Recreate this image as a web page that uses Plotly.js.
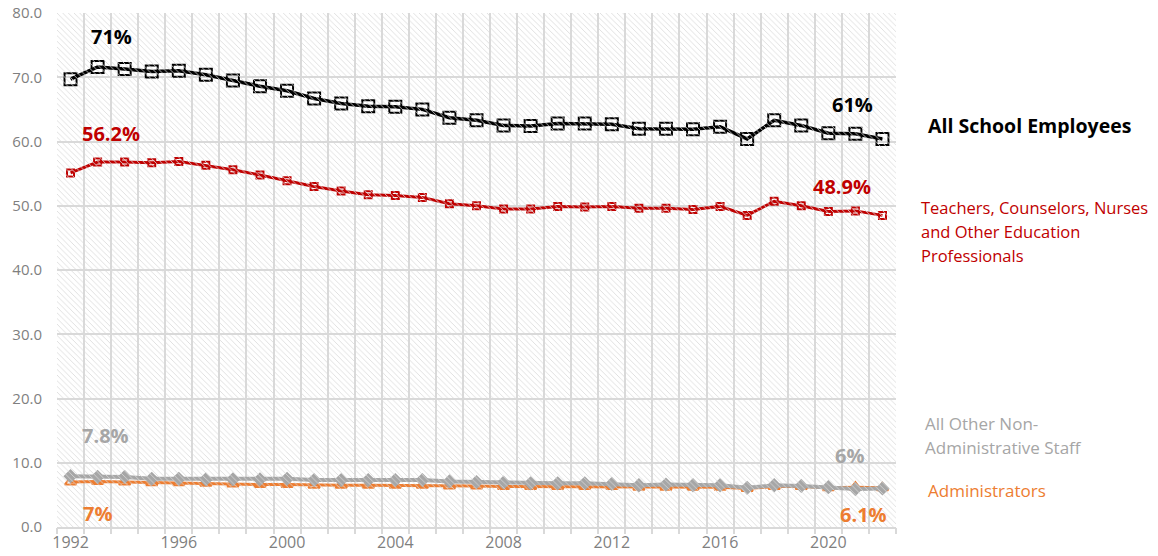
<!DOCTYPE html>
<html>
<head>
<meta charset="utf-8">
<script src="https://cdn.plot.ly/plotly-3.0.1.min.js"></script>
<style>html,body{margin:0;padding:0;background:#fff;}#chart{width:1158px;height:556px;}</style>
</head>
<body>
<div id="chart"></div>
<script>
const years = [1992,1993,1994,1995,1996,1997,1998,1999,2000,2001,2002,2003,2004,2005,2006,2007,2008,2009,2010,2011,2012,2013,2014,2015,2016,2017,2018,2019,2020,2021,2022];
const allEmployees = [69.7,71.6,71.3,70.9,71.0,70.4,69.5,68.6,67.9,66.7,65.9,65.5,65.4,65.0,63.7,63.3,62.5,62.4,62.8,62.8,62.7,62.0,62.0,61.9,62.3,60.4,63.3,62.5,61.3,61.2,60.4];
const teachers = [55.1,56.8,56.8,56.7,56.9,56.3,55.6,54.8,53.9,53.0,52.3,51.7,51.6,51.3,50.3,50.0,49.5,49.5,49.9,49.8,49.9,49.6,49.6,49.4,49.9,48.5,50.7,50.0,49.1,49.2,48.5];
const otherStaff = [7.9,7.8,7.8,7.5,7.5,7.4,7.4,7.4,7.5,7.3,7.3,7.3,7.3,7.3,7.1,7.0,6.9,6.8,6.8,6.8,6.7,6.5,6.6,6.5,6.5,6.1,6.5,6.4,6.2,5.9,6.0];
const administrators = [7.0,7.1,7.0,6.9,6.9,6.8,6.7,6.6,6.6,6.5,6.5,6.5,6.5,6.5,6.4,6.4,6.3,6.3,6.3,6.3,6.3,6.2,6.2,6.2,6.2,6.0,6.3,6.3,6.1,6.2,6.1];
const yTicks = [0,10,20,30,40,50,60,70,80];
const xTickYears = [1992,1996,2000,2004,2008,2012,2016,2020];
const yearBoundaries = [];
for (let i = 0; i <= years.length; i++) yearBoundaries.push(years[0] - 0.5 + i);

const xr = [years[0]-0.5, years[years.length-1]+0.5];

const traces = [
  {type:'bar', x:[(xr[0]+xr[1])/2], y:[80], width:[xr[1]-xr[0]], base:0, xaxis:'x2',
   marker:{color:'rgba(0,0,0,0)', line:{width:0}, pattern:{shape:'\\', fgcolor:'#d9d9d9', size:4, solidity:0.2}},
   hoverinfo:'skip', showlegend:false},
  {type:'scatter', mode:'lines+markers', name:'All School Employees', x:years, y:allEmployees,
   line:{color:'#000000', width:3.5}, marker:{symbol:'square-open', size:12, color:'#000000', line:{width:2}}},
  {type:'scatter', mode:'lines+markers', name:'Teachers', x:years, y:teachers,
   line:{color:'#c00000', width:3}, marker:{symbol:'square-open', size:7, color:'#c00000', line:{width:2}}},
  {type:'scatter', mode:'lines+markers', name:'Administrators', x:years, y:administrators,
   line:{color:'#ed7d31', width:3}, marker:{symbol:'triangle-up-open', size:10, color:'#ed7d31', line:{width:2}}},
  {type:'scatter', mode:'lines+markers', name:'Other Staff', x:years, y:otherStaff,
   line:{color:'#a6a6a6', width:4}, marker:{symbol:'diamond', size:11, color:'#a6a6a6'}}
];

const lblFont = (c) => ({family:'Open Sans, sans-serif', size:20, color:c, weight:'bold'});
const annotations = [
  {x:1993.5, y:76.3, text:'<b>71%</b>', font:lblFont('#000000')},
  {x:1993.5, y:61.3, text:'<b>56.2%</b>', font:lblFont('#c00000')},
  {x:2020.9, y:65.8, text:'<b>61%</b>', font:lblFont('#000000')},
  {x:2020.5, y:53.0, text:'<b>48.9%</b>', font:lblFont('#c00000')},
  {x:1993.3, y:14.2, text:'<b>7.8%</b>', font:lblFont('#a6a6a6')},
  {x:1993.0, y:2.1, text:'<b>7%</b>', font:lblFont('#ed7d31')},
  {x:2020.8, y:11.1, text:'<b>6%</b>', font:lblFont('#a6a6a6')},
  {x:2021.3, y:1.9, text:'<b>6.1%</b>', font:lblFont('#ed7d31')}
].map(a => Object.assign({xref:'x', yref:'y', showarrow:false, xanchor:'center', yanchor:'middle'}, a));

const redF = {family:'Open Sans, sans-serif', size:16.5, color:'#c00000'};
const grayF = {family:'Open Sans, sans-serif', size:17, color:'#a6a6a6'};
const side = [
  {y:125, text:'<b>All School Employees</b>', font:{family:'Open Sans, sans-serif', size:19.5, color:'#000000'}, x:926},
  {y:207, text:'Teachers, Counselors, Nurses', font:redF, x:919},
  {y:231, text:'and Other Education', font:redF, x:919},
  {y:255, text:'Professionals', font:redF, x:919},
  {y:423, text:'All Other Non-', font:grayF, x:923},
  {y:447, text:'Administrative Staff', font:grayF, x:923},
  {y:490, text:'Administrators', font:{family:'Open Sans, sans-serif', size:17, color:'#ed7d31'}, x:926}
];
side.forEach(s => annotations.push({xref:'paper', yref:'paper', x:(s.x-57)/(896-57), y:(527-s.y)/(527-13),
  xanchor:'left', yanchor:'middle', align:'left', showarrow:false, text:s.text, font:s.font}));

const layout = {
  width:1158, height:556,
  margin:{l:57, r:262, t:13, b:29},
  paper_bgcolor:'#ffffff', plot_bgcolor:'#ffffff',
  showlegend:false,
  xaxis:{type:'linear', range:xr, tickvals:xTickYears, ticktext:xTickYears.map(String), showgrid:false, zeroline:false,
         showline:true, linecolor:'#d9d9d9', linewidth:2, ticks:'', tickfont:{family:'Open Sans, sans-serif', size:16, color:'#7f7f7f'}},
  xaxis2:{type:'linear', overlaying:'x', range:xr, tickvals:yearBoundaries, showticklabels:false, showgrid:true,
          gridcolor:'#d9d9d9', gridwidth:2, ticks:'outside', ticklen:6, tickcolor:'#d9d9d9', tickwidth:2, zeroline:false, side:'bottom'},
  yaxis:{range:[0,80], tickvals:yTicks, ticktext:yTicks.map(v=>v.toFixed(1)), showgrid:true, gridcolor:'#d9d9d9', gridwidth:2,
         zeroline:false, showline:false, ticks:'', ticklabelstandoff:14,
         tickfont:{family:'Open Sans, sans-serif', size:15, color:'#7f7f7f'}},
  annotations:annotations
};

Plotly.newPlot('chart', traces, layout, {displayModeBar:false, staticPlot:true});
</script>
</body>
</html>
